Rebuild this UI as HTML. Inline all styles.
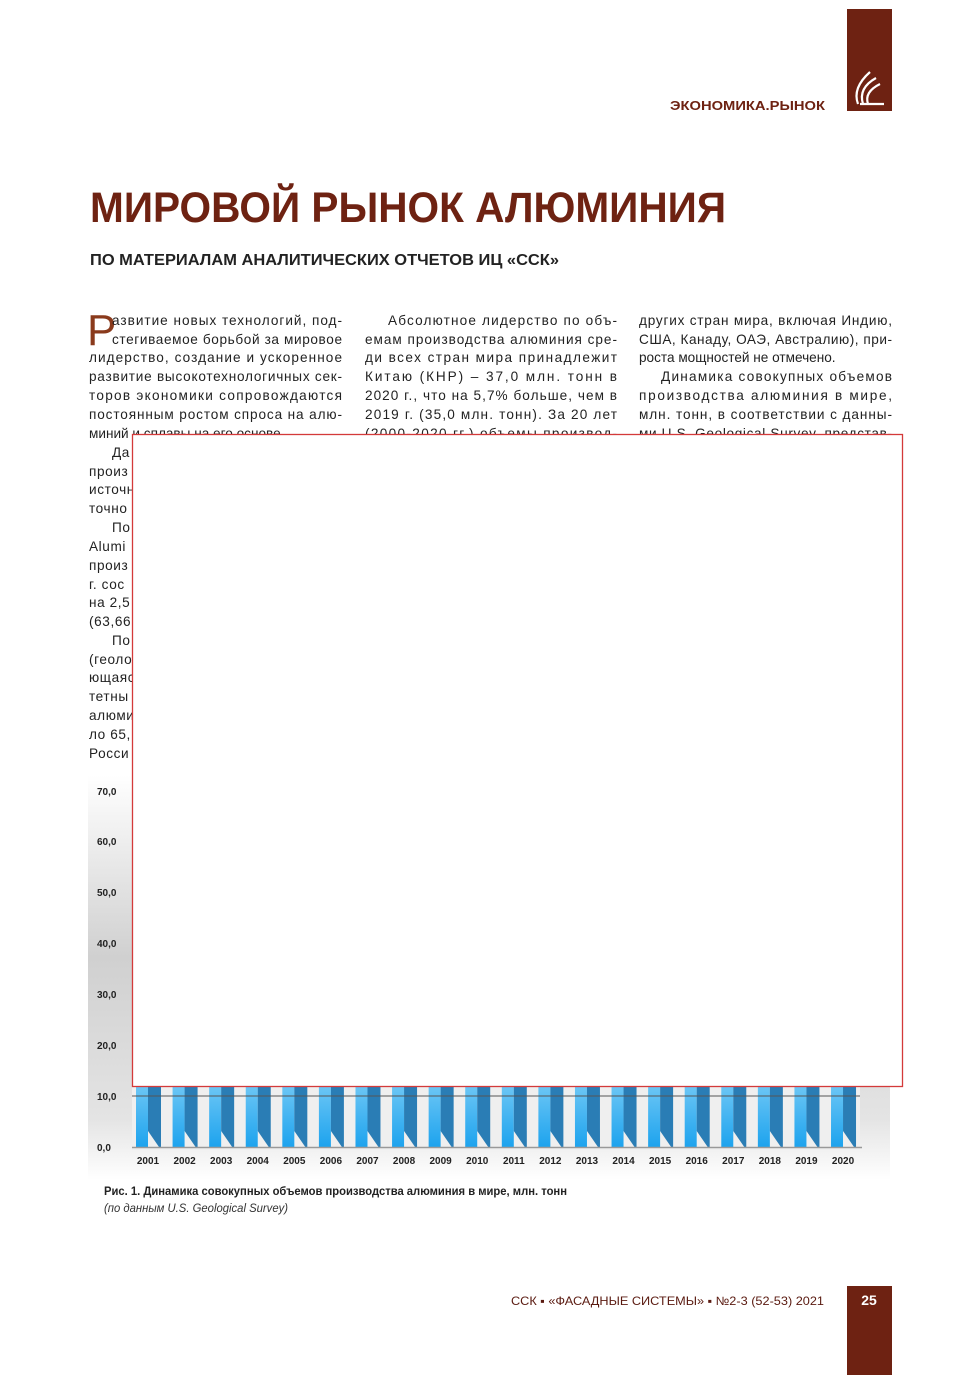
<!DOCTYPE html>
<html><head><meta charset="utf-8"><style>
html,body{margin:0;padding:0;background:#fff}
svg{display:block}
.t{font-family:"Liberation Sans",sans-serif;font-size:13.6px;fill:#222}
.ls{letter-spacing:0.6px}
.ax{font-family:"Liberation Sans",sans-serif;font-size:10px;font-weight:bold;fill:#222}
</style></head><body>
<svg width="980" height="1385" viewBox="0 0 980 1385" xmlns="http://www.w3.org/2000/svg">
<defs>
<linearGradient id="bg" x1="0" y1="0" x2="0" y2="1">
<stop offset="0" stop-color="#fff"/><stop offset="0.45" stop-color="#d0d0d0"/><stop offset="0.85" stop-color="#e4e4e4"/><stop offset="1" stop-color="#fff"/>
</linearGradient>
<linearGradient id="lb" x1="0" y1="0" x2="0" y2="1"><stop offset="0" stop-color="#6cc6f5"/><stop offset="1" stop-color="#1da3ee"/></linearGradient>
</defs>
<rect x="847" y="9" width="45" height="102" fill="#6e2212"/>
<g fill="none" stroke="#fff" stroke-width="2.2">
<path d="M858 104 Q852 88 870 72"/><path d="M863 104 Q858 88 876 78"/><path d="M868 104 Q864 92 880 84"/><path d="M860 104 L884 104"/>
</g>
<text x="670" y="110" font-family="Liberation Sans" font-weight="bold" font-size="13" fill="#6e2212" textLength="155" lengthAdjust="spacingAndGlyphs">ЭКОНОМИКА.РЫНОК</text>
<text x="90" y="222" font-family="Liberation Sans" font-weight="bold" font-size="43" fill="#6e2212" textLength="636" lengthAdjust="spacingAndGlyphs">МИРОВОЙ РЫНОК АЛЮМИНИЯ</text>
<text x="90" y="265" font-family="Liberation Sans" font-weight="bold" font-size="16" fill="#222" textLength="469" lengthAdjust="spacingAndGlyphs">ПО МАТЕРИАЛАМ АНАЛИТИЧЕСКИХ ОТЧЕТОВ ИЦ «ССК»</text>
<text x="87" y="345" font-family="Liberation Sans" font-size="44" fill="#8a3a1c">Р</text>
<g class="t">
<text x="112" y="325" textLength="230" lengthAdjust="spacing">азвитие новых технологий, под-</text>
<text x="112" y="344" textLength="230" lengthAdjust="spacing">стегиваемое борьбой за мировое</text>
<text x="89" y="362" textLength="253" lengthAdjust="spacing">лидерство, создание и ускоренное</text>
<text x="89" y="381" textLength="253" lengthAdjust="spacing">развитие высокотехнологичных сек-</text>
<text x="89" y="400" textLength="253" lengthAdjust="spacing">торов экономики сопровождаются</text>
<text x="89" y="419" textLength="253" lengthAdjust="spacing">постоянным ростом спроса на алю-</text>
<text x="89" y="438">миний и сплавы на его основе.</text>
<g class="ls">
<text x="112" y="457">Да</text><text x="89" y="476">произ</text><text x="89" y="494">источн</text><text x="89" y="513">точно</text>
<text x="112" y="532">По</text><text x="89" y="551">Alumi</text><text x="89" y="570">произ</text><text x="89" y="589">г. сос</text>
<text x="89" y="607">на 2,5</text><text x="89" y="626">(63,66</text><text x="112" y="645">По</text><text x="89" y="664">(геоло</text>
<text x="89" y="682">ющаяс</text><text x="89" y="701">тетны</text><text x="89" y="720">алюми</text><text x="89" y="739">ло 65,</text><text x="89" y="758">Росси</text>
</g>
<text x="388" y="325" textLength="229" lengthAdjust="spacing">Абсолютное лидерство по объ-</text>
<text x="365" y="344" textLength="252" lengthAdjust="spacing">емам производства алюминия сре-</text>
<text x="365" y="362" textLength="252" lengthAdjust="spacing">ди всех стран мира принадлежит</text>
<text x="365" y="381" textLength="252" lengthAdjust="spacing">Китаю (КНР) – 37,0 млн. тонн в</text>
<text x="365" y="400" textLength="252" lengthAdjust="spacing">2020 г., что на 5,7% больше, чем в</text>
<text x="365" y="419" textLength="252" lengthAdjust="spacing">2019 г. (35,0 млн. тонн). За 20 лет</text>
<text x="365" y="438" textLength="252" lengthAdjust="spacing">(2000-2020 гг.) объемы производ-</text>
<text x="639" y="325" textLength="253" lengthAdjust="spacing">других стран мира, включая Индию,</text>
<text x="639" y="344" textLength="253" lengthAdjust="spacing">США, Канаду, ОАЭ, Австралию), при-</text>
<text x="639" y="362">роста мощностей не отмечено.</text>
<text x="661" y="381" textLength="231" lengthAdjust="spacing">Динамика совокупных объемов</text>
<text x="639" y="400" textLength="253" lengthAdjust="spacing">производства алюминия в мире,</text>
<text x="639" y="419" textLength="253" lengthAdjust="spacing">млн. тонн, в соответствии с данны-</text>
<text x="639" y="438" textLength="253" lengthAdjust="spacing">ми U.S. Geological Survey, представ-</text>
</g>
<rect x="88" y="775" width="802" height="405" fill="url(#bg)"/>
<rect x="132" y="780" width="728" height="370" fill="#efefef"/>
<g class="ax">
<text x="97" y="795">70,0</text><text x="97" y="845">60,0</text><text x="97" y="896">50,0</text><text x="97" y="947">40,0</text>
<text x="97" y="998">30,0</text><text x="97" y="1049">20,0</text><text x="97" y="1100">10,0</text><text x="97" y="1151">0,0</text>
</g>
<g id="bars"></g>
<line x1="132" y1="1096" x2="860" y2="1096" stroke="#555" stroke-width="1"/>
<line x1="132" y1="1147.5" x2="862" y2="1147.5" stroke="#999" stroke-width="1.5"/>
<g class="ax" text-anchor="middle" id="yrs"></g>
<text x="104" y="1195" font-family="Liberation Sans" font-weight="bold" font-size="12" fill="#222" textLength="463" lengthAdjust="spacingAndGlyphs">Рис. 1. Динамика совокупных объемов производства алюминия в мире, млн. тонн</text>
<text x="104" y="1212" font-family="Liberation Sans" font-style="italic" font-size="12" fill="#333" textLength="184" lengthAdjust="spacingAndGlyphs">(по данным U.S. Geological Survey)</text>
<rect x="132.5" y="434.5" width="770" height="652" fill="#fff" stroke="#d43a3a" stroke-width="1.3"/>
<text x="511" y="1305" font-family="Liberation Sans" font-size="12" fill="#5a1a10" textLength="313" lengthAdjust="spacingAndGlyphs">ССК ▪ «ФАСАДНЫЕ СИСТЕМЫ» ▪ №2-3 (52-53) 2021</text>
<rect x="847" y="1286" width="45" height="89" fill="#6e2212"/>
<text x="869" y="1305" text-anchor="middle" font-family="Liberation Sans" font-weight="bold" font-size="14" fill="#fff">25</text>
</svg>
<script>
var b=document.getElementById('bars'),y=document.getElementById('yrs'),ns='http://www.w3.org/2000/svg';
for(var i=0;i<20;i++){var c=148+i*36.58,x=c-12;
var r=document.createElementNS(ns,'rect');r.setAttribute('x',x);r.setAttribute('y',1086);r.setAttribute('width',12);r.setAttribute('height',61);r.setAttribute('fill','url(#lb)');b.appendChild(r);
var p=document.createElementNS(ns,'path');p.setAttribute('d','M'+(x+12)+' 1086 h13 v61 h-2 l-11 -16 z');p.setAttribute('fill','#2a7db5');b.appendChild(p);
var t=document.createElementNS(ns,'text');t.setAttribute('x',c);t.setAttribute('y',1164);t.textContent=2001+i;y.appendChild(t);}
</script>
</body></html>
